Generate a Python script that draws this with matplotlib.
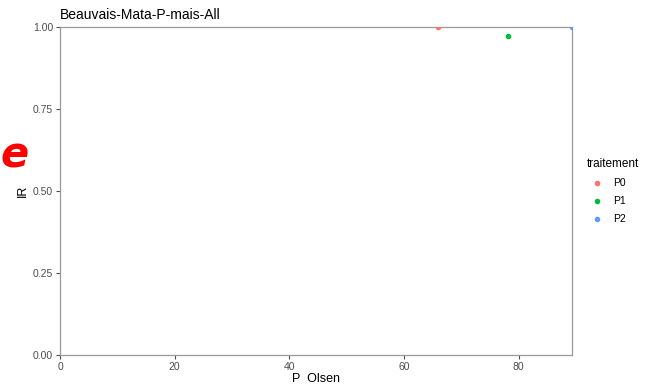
import matplotlib.pyplot as plt

plt.rcParams["font.family"] = ["Liberation Sans", "DejaVu Sans"]

traitements = ["P0", "P1", "P2"]
p_olsen = [65.9, 78.2, 89.3]
ir = [1.0, 0.973, 1.0]
couleurs = ["#F8766D", "#00BA38", "#619CFF"]

x_ticks = [0, 20, 40, 60, 80]
y_ticks = [0.00, 0.25, 0.50, 0.75, 1.00]
y_labels = ["0.00", "0.25", "0.50", "0.75", "1.00"]


def main():
    fig = plt.figure(figsize=(6.51, 3.91), dpi=100)
    ax = fig.add_axes([60 / 651, 1 - 355 / 391, 512 / 651, 328 / 391])

    for t, x, y, c in zip(traitements, p_olsen, ir, couleurs):
        ax.scatter([x], [y], s=9, color=c, label=t, clip_on=True, zorder=3)

    ax.set_xlim(0, 89.3)
    ax.set_ylim(0, 1)
    ax.set_xticks(x_ticks)
    ax.set_yticks(y_ticks)
    ax.set_yticklabels(y_labels)
    ax.tick_params(colors="#4d4d4d", labelsize=7.5, length=3, width=0.8,
                   labelcolor="#4d4d4d", pad=2)
    for s in ax.spines.values():
        s.set_color("#9a9a9a")
        s.set_linewidth(0.9)

    ax.set_xlabel("P  Olsen", fontsize=9, labelpad=1)
    ax.set_ylabel("IR", fontsize=9, labelpad=3)
    ax.set_title("Beauvais-Mata-P-mais-All", fontsize=10, loc="left", pad=6)

    leg = ax.legend(title="traitement", loc="center left",
                    bbox_to_anchor=(1.01, 0.50), frameon=False, fontsize=7.5,
                    title_fontsize=8.5, handletextpad=0.6, labelspacing=0.75,
                    markerscale=1.0)
    leg._legend_box.align = "left"

    fig.text(0.0, 1 - 155 / 391, "e", color="red", fontsize=30,
             family="DejaVu Sans", fontweight="bold", fontstyle="oblique",
             va="center", ha="left")

    fig.savefig("out.png", dpi=100)


if __name__ == "__main__":
    main()
